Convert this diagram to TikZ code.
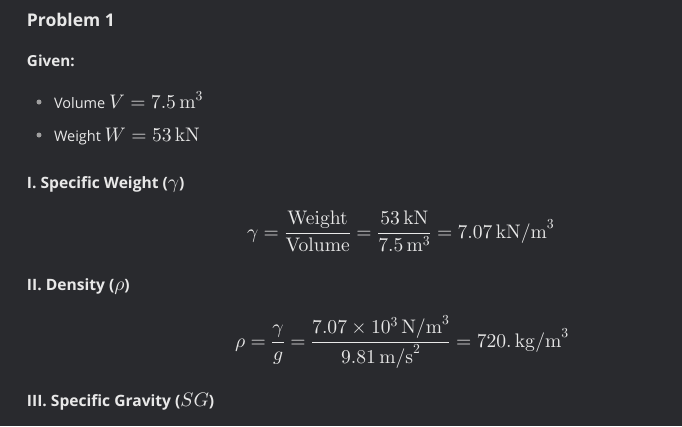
\documentclass[tikz,border=0pt]{standalone}
\usepackage[no-math]{fontspec}
\usepackage{amsmath}
\DeclareFontShape{OT1}{cmr}{m}{n}{<->cmr10}{}
\DeclareFontShape{OML}{cmm}{m}{it}{<->cmmi10}{}
\DeclareFontShape{OMS}{cmsy}{m}{n}{<->cmsy10}{}
\DeclareFontShape{OMX}{cmex}{m}{n}{<->cmex10}{}
\newfontfamily\uisans{Open Sans}
\definecolor{bgc}{RGB}{41,42,46}
\definecolor{fgc}{RGB}{232,232,232}
\definecolor{bulc}{RGB}{160,160,160}
\newcommand\mth[1]{{\fontsize{19.6}{24}\selectfont$#1$}}
\begin{document}
\begin{tikzpicture}[x=1pt,y=-1pt,
  txt/.style={inner sep=0pt, outer sep=0pt, anchor=base west, text=fgc},
  body/.style={txt, font=\uisans\fontsize{14.5}{18}\selectfont},
  head/.style={txt, font=\uisans\bfseries\fontsize{15.6}{18}\selectfont},
  ttl/.style={txt, font=\uisans\bfseries\fontsize{17.5}{21}\selectfont},
  eqn/.style={txt, font=\fontsize{19.6}{24}\selectfont},
  bul/.style={circle, fill=bulc, inner sep=0pt, minimum size=5pt}]
\fill[bgc] (0,0) rectangle (682,426);
\useasboundingbox (0,0) rectangle (682,426);
\node[ttl] (title) at (27,26) {Problem 1};
\node[head, font=\uisans\bfseries\fontsize{15.2}{18}\selectfont] (given) at (27,66) {Given:};
\node[bul] (b1) at (39,102) {};
\node[body] (i1) at (54,108) {Volume \mth{V = 7.5\,\mathrm{m}^3}};
\node[bul] (b2) at (39,135) {};
\node[body] (i2) at (54,141) {Weight \mth{W = 53\,\mathrm{kN}}};
\node[head] (h1) at (27,188) {I. Specific Weight (\mth{\gamma})};
\node[eqn] (e1) at (247,238) {$\displaystyle \gamma = \frac{\mathrm{Weight}}{\mathrm{Volume}} = \frac{53\,\mathrm{kN}}{7.5\,\mathrm{m}^3} = 7.07\,\mathrm{kN/m}^3$};
\node[head] (h2) at (27,290) {II. Density (\mth{\rho})};
\node[eqn] (e2) at (235,347) {$\displaystyle \rho = \frac{\gamma}{g} = \frac{7.07\times 10^3\,\mathrm{N/m}^3}{9.81\,\mathrm{m/s}^2} = 720.\,\mathrm{kg/m}^3$};
\node[head] (h3) at (27,406) {III. Specific Gravity (\mth{SG})};
\end{tikzpicture}
\end{document}
